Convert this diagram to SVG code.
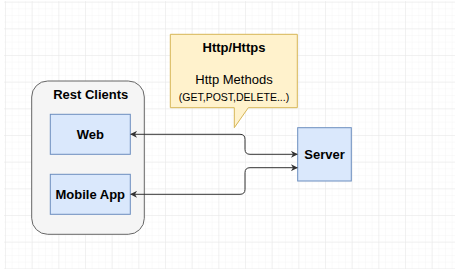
<svg xmlns="http://www.w3.org/2000/svg" width="455" height="278" viewBox="0 0 455 278">
  <defs>
    <pattern id="minor" patternUnits="userSpaceOnUse" x="5" y="1.67" width="6.667" height="6.667">
      <path d="M0,0 H6.667 M0,0 V6.667" fill="none" stroke="#f5f5f5" stroke-width="1"/>
    </pattern>
    <pattern id="major" patternUnits="userSpaceOnUse" x="5" y="1.67" width="26.667" height="26.667">
      <path d="M0,0 H26.667 M0,0 V26.667" fill="none" stroke="#e8e8e8" stroke-width="1"/>
    </pattern>
    <marker id="arrow" viewBox="0 0 10 10" refX="9" refY="5" markerWidth="7" markerHeight="7" markerUnits="userSpaceOnUse" orient="auto-start-reverse">
      <path d="M0,0 L10,5 L0,10 L3,5 Z" fill="#333333"/>
    </marker>
  </defs>
  <style>
    .lbl { font-family: "Liberation Sans", Arial, sans-serif; font-size: 13px; fill: #000; text-anchor: middle; }
    .b { font-weight: bold; }
    .node { fill: #dae8fc; stroke: #6c8ebf; stroke-width: 1; }
    .conn { fill: none; stroke: #333333; stroke-width: 1; }
  </style>
  <rect x="0" y="0" width="455" height="278" fill="#ffffff"/>
  <rect x="4" y="1" width="451" height="268" fill="url(#minor)"/>
  <rect x="4" y="1" width="451" height="268" fill="url(#major)"/>

  <g id="rest-clients">
    <rect x="31.7" y="81" width="112.6" height="153.3" rx="16" ry="16" fill="#f5f5f5" stroke="#666666"/>
    <text class="lbl b" x="90.7" y="99">Rest Clients</text>
  </g>
  <g id="web">
    <rect class="node" x="50.3" y="114.3" width="80" height="40"/>
    <text class="lbl b" x="90.3" y="139">Web</text>
  </g>
  <g id="mobile-app">
    <rect class="node" x="50.3" y="174.3" width="80" height="40"/>
    <text class="lbl b" x="90.3" y="199">Mobile App</text>
  </g>
  <g id="server">
    <rect class="node" x="297.7" y="127.7" width="53.6" height="53.3"/>
    <text class="lbl b" x="324.5" y="159">Server</text>
  </g>
  <g id="callout">
    <path d="M170.3,34.3 H297.3 V107.7 H248.3 L234.3,127.7 V107.7 H170.3 Z" fill="#fff2cc" stroke="#d6b656"/>
    <text class="lbl b" x="234" y="52">Http/Https</text>
    <text class="lbl" x="234" y="84">Http Methods</text>
    <text class="lbl" x="234" y="100.5" style="font-size:10.5px">(GET,POST,DELETE...)</text>
  </g>
  <g id="connectors">
    <path class="conn" d="M130.8,134.3 H240 Q245,134.3 245,139.3 V149.3 Q245,154.3 250,154.3 H297.2" marker-start="url(#arrow)" marker-end="url(#arrow)"/>
    <path class="conn" d="M130.8,194.3 H240 Q245,194.3 245,189.3 V172.7 Q245,167.7 250,167.7 H297.2" marker-start="url(#arrow)" marker-end="url(#arrow)"/>
  </g>
</svg>
